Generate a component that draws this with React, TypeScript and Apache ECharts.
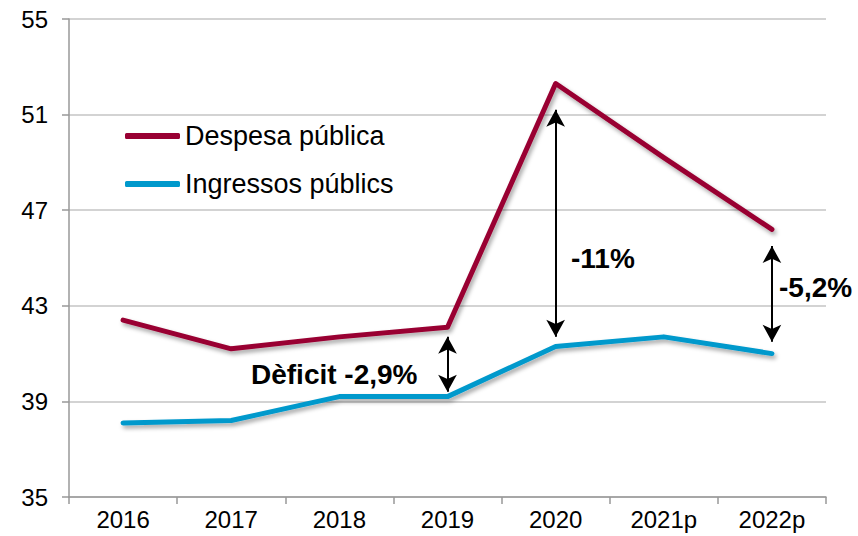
import React, { useEffect, useRef } from "react";
import * as echarts from "echarts";

const categories = ["2016", "2017", "2018", "2019", "2020", "2021p", "2022p"];
const despesa = [42.4, 41.2, 41.7, 42.1, 52.3, 49.2, 46.2];
const ingressos = [38.1, 38.2, 39.2, 39.2, 41.3, 41.7, 41.0];
const yTicks = { min: 35, max: 55, interval: 4 };
// arrows: [category, from, to]
const arrows: [string, number, number][] = [
  ["2019", 41.7, 39.4],
  ["2020", 51.2, 41.7],
  ["2022p", 45.5, 41.5],
];
const notes = [
  { text: "Dèficit -2,9%", x: 251, y: 374 },
  { text: "-11%", x: 571, y: 258 },
  { text: "-5,2%", x: 779, y: 287 },
];

const FONT = "'Liberation Sans', Arial, sans-serif";
const RED = "#990033";
const BLUE = "#0099CC";

export default function App() {
  const ref = useRef<HTMLDivElement>(null);
  useEffect(() => {
    if (!ref.current) return;
    const chart = echarts.init(ref.current, null, { renderer: "svg" });
    const shadow = {
      shadowColor: "rgba(0,0,0,0.35)",
      shadowBlur: 4,
      shadowOffsetX: 2,
      shadowOffsetY: 3,
    };
    chart.setOption({
      animation: false,
      backgroundColor: "#ffffff",
      textStyle: { fontFamily: FONT },
      grid: { left: 69, right: 32, top: 19, bottom: 39, containLabel: false },
      legend: {
        orient: "vertical",
        left: 120,
        top: 115,
        itemWidth: 55,
        itemHeight: 6,
        itemGap: 16,
        icon: "roundRect",
        textStyle: { fontFamily: FONT, fontSize: 27, color: "#000", lineHeight: 32 },
        data: ["Despesa pública", "Ingressos públics"],
      },
      xAxis: {
        type: "category",
        data: categories,
        boundaryGap: true,
        axisLine: { lineStyle: { color: "#999999", width: 1.5 } },
        axisTick: { show: true, length: 7, lineStyle: { color: "#999999", width: 1.5 } },
        axisLabel: { color: "#000", fontSize: 24, fontFamily: FONT, margin: 10 },
      },
      yAxis: {
        type: "value",
        min: yTicks.min,
        max: yTicks.max,
        interval: yTicks.interval,
        axisLine: { show: true, lineStyle: { color: "#999999", width: 1.5 } },
        axisTick: { show: true, length: 7, lineStyle: { color: "#999999", width: 1.5 } },
        axisLabel: { color: "#000", fontSize: 24, fontFamily: FONT, margin: 21 },
        splitLine: { lineStyle: { color: "#c4c4c4", width: 1.5 } },
      },
      series: [
        {
          name: "Despesa pública",
          type: "line",
          data: despesa,
          symbol: "none",
          color: RED,
          lineStyle: { color: RED, width: 5, cap: "round", join: "round", ...shadow },
          z: 3,
        },
        {
          name: "Ingressos públics",
          type: "line",
          data: ingressos,
          symbol: "none",
          color: BLUE,
          lineStyle: { color: BLUE, width: 5, cap: "round", join: "round", ...shadow },
          z: 3,
          markLine: {
            silent: true,
            symbol: ["arrow", "arrow"],
            symbolSize: [14, 17],
            label: { show: false },
            lineStyle: { color: "#000", width: 2, type: "solid" },
            emphasis: { disabled: true },
            data: arrows.map(([c, a, b]) => [
              { coord: [c, a] },
              { coord: [c, b] },
            ]),
            z: 5,
          },
        },
      ],
      graphic: notes.map((n) => ({
        type: "text",
        x: n.x,
        y: n.y,
        z: 10,
        style: {
          text: n.text,
          fill: "#000",
          font: `bold 28px ${FONT}`,
          verticalAlign: "middle",
          align: "left",
        },
      })),
    });
    return () => chart.dispose();
  }, []);
  return <div ref={ref} style={{ width: 858, height: 536, position: "absolute", left: 0, top: 0 }} />;
}
